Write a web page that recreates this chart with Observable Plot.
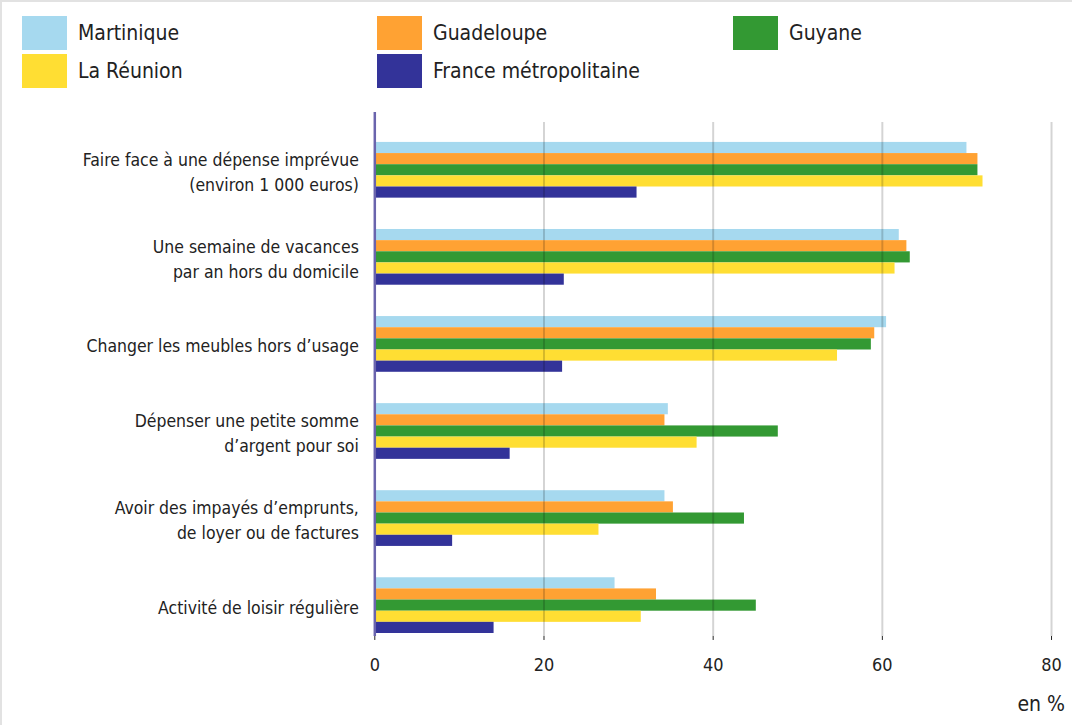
<!DOCTYPE html>
<html>
<head>
<meta charset="utf-8">
<script src="https://cdn.jsdelivr.net/npm/d3@7"></script>
<script src="https://cdn.jsdelivr.net/npm/@observablehq/plot@0.6"></script>
<style>
  html, body { margin: 0; padding: 0; background: #fff; }
  body { width: 1072px; height: 725px; overflow: hidden; font-family: "Liberation Sans Narrow", "DejaVu Sans Condensed", sans-serif; color: #222; }
  #frame { position: relative; width: 1072px; height: 725px; border-top: 2px solid #e2e2e2; border-left: 2px solid #e2e2e2; box-sizing: border-box; }
  #legend { position: relative; height: 98px; }
  .item { position: absolute; display: flex; align-items: center; font-size: 21px; }
  .sw { width: 45px; height: 34px; margin-right: 11px; }
  #unit { position: absolute; right: 7px; top: 690px; font-size: 21px; }
</style>
</head>
<body>
<div id="frame">
  <div id="legend"></div>
  <div id="chart"></div>
  <div id="unit">en %</div>
</div>
<script>
const categories = [
  "Faire face à une dépense imprévue\n(environ 1 000 euros)",
  "Une semaine de vacances\npar an hors du domicile",
  "Changer les meubles hors d’usage",
  "Dépenser une petite somme\nd’argent pour soi",
  "Avoir des impayés d’emprunts,\nde loyer ou de factures",
  "Activité de loisir régulière"
];
const series = ["Martinique", "Guadeloupe", "Guyane", "La Réunion", "France métropolitaine"];
const colors = ["#a6d9ef", "#ffa233", "#339933", "#ffde33", "#333399"];

const martinique = [70.0, 62.0, 60.5, 34.7, 34.3, 28.4];
const guadeloupe = [71.3, 62.9, 59.1, 34.3, 35.3, 33.3];
const guyane     = [71.3, 63.3, 58.7, 47.7, 43.7, 45.1];
const reunion    = [71.9, 61.5, 54.7, 38.1, 26.5, 31.5];
const france     = [31.0, 22.4, 22.2, 16.0,  9.2, 14.1];
const values = [martinique, guadeloupe, guyane, reunion, france];
const xTicks = [0, 20, 40, 60, 80];

// Legend (3 columns, 2 rows)
const legendPos = [[20, 14], [375, 14], [731, 14], [20, 52], [375, 52]];
const legend = document.getElementById("legend");
series.forEach((s, i) => {
  const el = document.createElement("div");
  el.className = "item";
  el.style.left = legendPos[i][0] + "px";
  el.style.top = legendPos[i][1] + "px";
  el.innerHTML = `<span class="sw" style="background:${colors[i]}"></span><span>${s}</span>`;
  legend.appendChild(el);
});

const rows = series.flatMap((s, i) => categories.map((c, j) => ({category: c, series: s, value: values[i][j]})));

const yRange = [42, 534];
const pInner = 0.36;
const step = (yRange[1] - yRange[0]) / (categories.length - pInner);
const bw = step * (1 - pInner);
const barH = bw / series.length;

const marks = [];
series.forEach((s, i) => {
  marks.push(Plot.barX(rows.filter(d => d.series === s), {
    x: "value", y: "category", fill: colors[i],
    insetTop: i * barH, insetBottom: (series.length - 1 - i) * barH
  }));
});
marks.push(Plot.ruleX(xTicks.filter(t => t > 0), {stroke: "#000", strokeOpacity: 0.17, strokeWidth: 2, insetTop: 10}));
marks.push(Plot.ruleX([0], {stroke: "#6a64ad", strokeWidth: 2.5}));
marks.push(Plot.text(categories, {
  y: d => d, text: d => d, frameAnchor: "left", textAnchor: "end", dx: -16,
  fontSize: 17.5, lineHeight: 1.42, fill: "#222"
}));

const chart = Plot.plot({
  width: 1072,
  height: 590,
  marginLeft: 373,
  marginRight: 21,
  marginTop: 12,
  marginBottom: 53,
  style: {fontFamily: "'Liberation Sans Narrow', 'DejaVu Sans Condensed', sans-serif", fontSize: "18px", color: "#222", background: "transparent"},
  x: {domain: [0, 80], ticks: xTicks, tickSize: 4, tickPadding: 18, label: null},
  y: {domain: categories, range: yRange, paddingInner: pInner, paddingOuter: 0, round: false, axis: null},
  marks
});
document.getElementById("chart").appendChild(chart);
</script>
</body>
</html>
